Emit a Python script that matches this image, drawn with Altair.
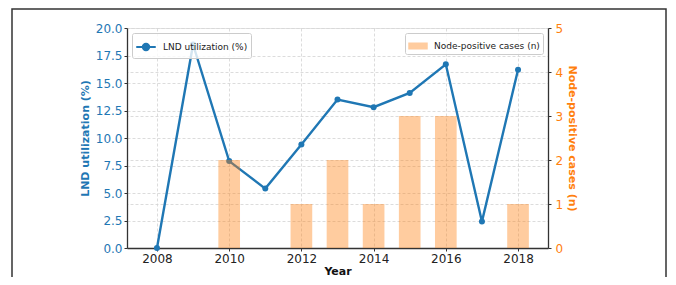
import altair as alt
import pandas as pd

years = [2008, 2009, 2010, 2011, 2012, 2013, 2014, 2015, 2016, 2017, 2018]
lnd_util = [0.0, 18.5, 7.9, 5.4, 9.4, 13.5, 12.8, 14.1, 16.7, 2.4, 16.2]
node_pos = [0, 0, 2, 0, 1, 2, 1, 3, 3, 0, 1]
x_ticks = [2008, 2010, 2012, 2014, 2016, 2018]
left_ticks = [0, 2.5, 5, 7.5, 10, 12.5, 15, 17.5, 20]
right_ticks = [0, 1, 2, 3, 4, 5]

df = pd.DataFrame({"year": years, "lnd": lnd_util, "cases": node_pos})

BLUE = "#1f77b4"
ORANGE = "#ff7f0e"
FONT = "DejaVu Sans"
GRID = "#d3d3d3"

xscale = alt.Scale(domain=[2007.17, 2018.83], nice=False, zero=False)

x_axis = alt.Axis(values=x_ticks, format="d", title="Year", grid=True,
                  gridDash=[3, 2], gridColor=GRID, gridWidth=0.8,
                  labelFontSize=12, labelColor="#222", labelFont=FONT,
                  titleFont=FONT, titleFontSize=11, titleFontWeight="bold",
                  titleColor="#111", titlePadding=1, tickSize=3,
                  labelPadding=2, domainColor="#333", domainWidth=1.3,
                  tickColor="#333")

line_sym = "M-1,0 L1,0 M-0.32,0 A0.32,0.32 0 1,1 0.32,0 A0.32,0.32 0 1,1 -0.32,0 Z"
rect_sym = "M-1,-0.36 L1,-0.36 L1,0.36 L-1,0.36 Z"

base = alt.Chart(df)

line = base.transform_calculate(series="'LND utilization (%)'").mark_line(
    strokeWidth=2.4, point=alt.OverlayMarkDef(size=36, filled=True, opacity=1)
).encode(
    x=alt.X("year:Q", scale=xscale, axis=x_axis),
    y=alt.Y("lnd:Q", scale=alt.Scale(domain=[0, 20], nice=False),
            axis=alt.Axis(values=left_ticks, format=".1f", title="LND utilization (%)",
                          orient="left", grid=True, gridDash=[3, 2], gridColor=GRID,
                          gridWidth=0.8, labelColor=BLUE, labelFontSize=12,
                          labelFont=FONT, titleColor=BLUE, titleFont=FONT,
                          titleFontSize=11, titleFontWeight="bold", titlePadding=5,
                          tickSize=3, labelPadding=2, domainColor="#333",
                          domainWidth=1.3, tickColor="#333")),
    color=alt.Color("series:N", scale=alt.Scale(domain=["LND utilization (%)"], range=[BLUE]),
                    legend=alt.Legend(title=None, orient="top-left", offset=5,
                                      symbolType=line_sym, symbolSize=380,
                                      symbolStrokeWidth=2.2, symbolFillColor=BLUE,
                                      labelFontSize=9, labelFont=FONT, labelColor="#222",
                                      strokeColor="#cccccc", fillColor="rgba(255,255,255,0.8)",
                                      cornerRadius=2, padding=3, labelOffset=6)),
)

bars = base.transform_calculate(
    series="'Node-positive cases (n)'",
    x0="datum.year - 0.3",
    x1="datum.year + 0.3",
).mark_bar(opacity=0.4).encode(
    x=alt.X("x0:Q", scale=xscale, axis=x_axis),
    x2="x1:Q",
    y=alt.Y("cases:Q", scale=alt.Scale(domain=[0, 5], nice=False),
            axis=alt.Axis(values=right_ticks, format="d", title="Node-positive cases (n)",
                          orient="right", grid=True, gridDash=[3, 2], gridColor=GRID,
                          gridWidth=0.8, labelColor=ORANGE, labelFontSize=12,
                          labelFont=FONT, titleColor=ORANGE, titleFont=FONT,
                          titleFontSize=11, titleFontWeight="bold", titlePadding=4,
                          tickSize=3, labelPadding=4, domainColor="#333",
                          domainWidth=1.3, tickColor="#333")),
    y2=alt.datum(0),
    color=alt.Color("series:N", scale=alt.Scale(domain=["Node-positive cases (n)"], range=[ORANGE]),
                    legend=alt.Legend(title=None, orient="top-right", offset=5,
                                      symbolType=rect_sym, symbolSize=380,
                                      symbolOpacity=0.4, symbolStrokeWidth=0,
                                      labelFontSize=9, labelFont=FONT, labelColor="#222",
                                      strokeColor="#cccccc", fillColor="rgba(255,255,255,0.8)",
                                      cornerRadius=2, padding=3, labelOffset=6)),
)

frame = alt.Chart(pd.DataFrame({"k": [0]})).mark_rect(
    fill=None, stroke="#333", strokeWidth=1.5
).encode(
    x=alt.value(-115), x2=alt.value(539), y=alt.value(-19), y2=alt.value(300)
)

chart = alt.layer(frame, line, bars).resolve_scale(
    y="independent", color="independent"
).resolve_legend(color="independent").properties(
    width=421, height=220,
    autosize=alt.AutoSizeParams(type="none"),
    padding={"left": 119, "top": 20, "right": 120, "bottom": 29},
).configure_view(stroke=None)

chart.save("out.html", embed_options={"renderer": "svg", "actions": False})
